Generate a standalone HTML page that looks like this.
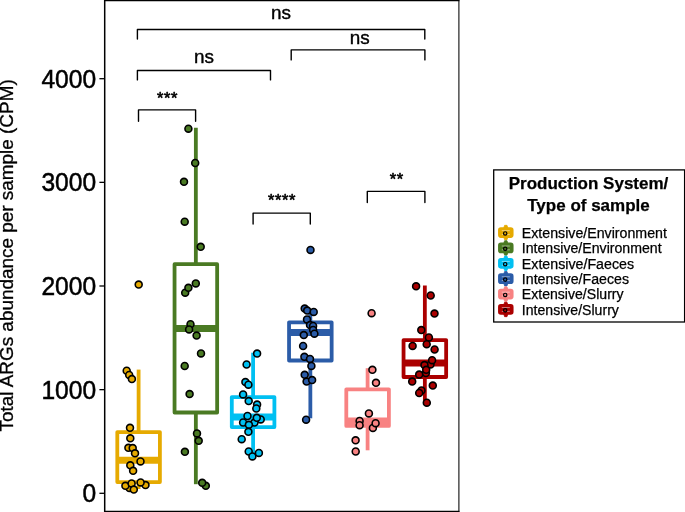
<!DOCTYPE html><html><head><meta charset="utf-8"><style>html,body{margin:0;padding:0;background:#fff;width:685px;height:512px;overflow:hidden}svg{display:block;filter:blur(0.35px)}text{font-family:"Liberation Sans",Arial,sans-serif}</style></head><body>
<svg width="685" height="512" viewBox="0 0 685 512">
<rect width="685" height="512" fill="#fff"/>
<g stroke="#E6AA00" fill="none" stroke-width="3.8">
<line x1="138.60" y1="369.6" x2="138.60" y2="432.10"/>
<line x1="138.60" y1="482.10" x2="138.60" y2="489.0"/>
<rect x="117.30" y="432.10" width="42.60" height="50.00" fill="#fff" stroke-linejoin="round"/>
<line x1="117.30" y1="460.3" x2="159.90" y2="460.3" stroke-width="7.0"/>
</g>
<g stroke="#4A7A23" fill="none" stroke-width="3.8">
<line x1="195.85" y1="127.7" x2="195.85" y2="264.20"/>
<line x1="195.85" y1="412.50" x2="195.85" y2="484.2"/>
<rect x="174.55" y="264.20" width="42.60" height="148.30" fill="#fff" stroke-linejoin="round"/>
<line x1="174.55" y1="328.5" x2="217.15" y2="328.5" stroke-width="7.0"/>
</g>
<g stroke="#00C0F2" fill="none" stroke-width="3.8">
<line x1="253.10" y1="352.7" x2="253.10" y2="397.10"/>
<line x1="253.10" y1="427.10" x2="253.10" y2="455.0"/>
<rect x="231.80" y="397.10" width="42.60" height="30.00" fill="#fff" stroke-linejoin="round"/>
<line x1="231.80" y1="417.1" x2="274.40" y2="417.1" stroke-width="7.0"/>
</g>
<g stroke="#2B5CA8" fill="none" stroke-width="3.8">
<line x1="310.35" y1="309.0" x2="310.35" y2="322.30"/>
<line x1="310.35" y1="360.50" x2="310.35" y2="418.3"/>
<rect x="289.05" y="322.30" width="42.60" height="38.20" fill="#fff" stroke-linejoin="round"/>
<line x1="289.05" y1="332.5" x2="331.65" y2="332.5" stroke-width="7.0"/>
</g>
<g stroke="#F88282" fill="none" stroke-width="3.8">
<line x1="367.60" y1="368.2" x2="367.60" y2="389.30"/>
<line x1="367.60" y1="425.90" x2="367.60" y2="450.3"/>
<rect x="346.30" y="389.30" width="42.60" height="36.60" fill="#fff" stroke-linejoin="round"/>
<line x1="346.30" y1="421.0" x2="388.90" y2="421.0" stroke-width="7.0"/>
</g>
<g stroke="#AB0000" fill="none" stroke-width="3.8">
<line x1="424.85" y1="285.5" x2="424.85" y2="340.10"/>
<line x1="424.85" y1="377.00" x2="424.85" y2="402.7"/>
<rect x="403.55" y="340.10" width="42.60" height="36.90" fill="#fff" stroke-linejoin="round"/>
<line x1="403.55" y1="363.0" x2="446.15" y2="363.0" stroke-width="7.0"/>
</g>
<g fill="#E6AA00" stroke="#000" stroke-width="1.6">
<circle cx="138.7" cy="284.6" r="3.45"/>
<circle cx="126.7" cy="370.7" r="3.45"/>
<circle cx="129.2" cy="375.0" r="3.45"/>
<circle cx="131.9" cy="379.1" r="3.45"/>
<circle cx="130" cy="427.8" r="3.45"/>
<circle cx="130.3" cy="438.3" r="3.45"/>
<circle cx="128.4" cy="447.8" r="3.45"/>
<circle cx="132.7" cy="448.1" r="3.45"/>
<circle cx="135" cy="453.3" r="3.45"/>
<circle cx="140.5" cy="461.4" r="3.45"/>
<circle cx="130.3" cy="465.3" r="3.45"/>
<circle cx="133.1" cy="470.8" r="3.45"/>
<circle cx="129.4" cy="487.9" r="3.45"/>
<circle cx="125.4" cy="485.8" r="3.45"/>
<circle cx="131.6" cy="483.4" r="3.45"/>
<circle cx="133.8" cy="489.6" r="3.45"/>
<circle cx="145.5" cy="485.1" r="3.45"/>
<circle cx="140.6" cy="482.4" r="3.45"/>
</g>
<g fill="#4A7A23" stroke="#000" stroke-width="1.6">
<circle cx="188.4" cy="128.7" r="3.45"/>
<circle cx="195.2" cy="163.0" r="3.45"/>
<circle cx="184.0" cy="181.8" r="3.45"/>
<circle cx="184.7" cy="221.7" r="3.45"/>
<circle cx="200.7" cy="246.8" r="3.45"/>
<circle cx="195.8" cy="283.4" r="3.45"/>
<circle cx="185.2" cy="292.7" r="3.45"/>
<circle cx="188.4" cy="287.8" r="3.45"/>
<circle cx="190.5" cy="324.2" r="3.45"/>
<circle cx="189.1" cy="329.4" r="3.45"/>
<circle cx="196.6" cy="335.6" r="3.45"/>
<circle cx="201" cy="353.4" r="3.45"/>
<circle cx="184.7" cy="366" r="3.45"/>
<circle cx="189.6" cy="394.1" r="3.45"/>
<circle cx="197" cy="433.4" r="3.45"/>
<circle cx="198.7" cy="440.8" r="3.45"/>
<circle cx="184.9" cy="451.8" r="3.45"/>
<circle cx="205.8" cy="485.8" r="3.45"/>
<circle cx="202.2" cy="482.8" r="3.45"/>
</g>
<g fill="#00C0F2" stroke="#000" stroke-width="1.6">
<circle cx="257.1" cy="353.6" r="3.45"/>
<circle cx="246.6" cy="364.5" r="3.45"/>
<circle cx="245.4" cy="382.1" r="3.45"/>
<circle cx="248.4" cy="384.7" r="3.45"/>
<circle cx="243.1" cy="394.4" r="3.45"/>
<circle cx="248.7" cy="401.1" r="3.45"/>
<circle cx="257.1" cy="404.6" r="3.45"/>
<circle cx="256.3" cy="408.5" r="3.45"/>
<circle cx="247.5" cy="416" r="3.45"/>
<circle cx="260.7" cy="419.4" r="3.45"/>
<circle cx="254.5" cy="422.6" r="3.45"/>
<circle cx="256.8" cy="417.8" r="3.45"/>
<circle cx="243.1" cy="422.5" r="3.45"/>
<circle cx="248.9" cy="424.8" r="3.45"/>
<circle cx="248.4" cy="431.8" r="3.45"/>
<circle cx="241.7" cy="439.2" r="3.45"/>
<circle cx="248.7" cy="451.5" r="3.45"/>
<circle cx="252.4" cy="456.4" r="3.45"/>
<circle cx="258.9" cy="452.9" r="3.45"/>
</g>
<g fill="#2B5CA8" stroke="#000" stroke-width="1.6">
<circle cx="310.5" cy="249.9" r="3.45"/>
<circle cx="304.7" cy="308.6" r="3.45"/>
<circle cx="307.2" cy="310.6" r="3.45"/>
<circle cx="313.7" cy="311.9" r="3.45"/>
<circle cx="307" cy="319.4" r="3.45"/>
<circle cx="310" cy="325.1" r="3.45"/>
<circle cx="313.1" cy="326" r="3.45"/>
<circle cx="313.1" cy="329.9" r="3.45"/>
<circle cx="314.4" cy="333.7" r="3.45"/>
<circle cx="303.8" cy="335.1" r="3.45"/>
<circle cx="303.1" cy="346" r="3.45"/>
<circle cx="304.4" cy="356.8" r="3.45"/>
<circle cx="310" cy="358.9" r="3.45"/>
<circle cx="311.4" cy="365.9" r="3.45"/>
<circle cx="304.7" cy="374.8" r="3.45"/>
<circle cx="306.6" cy="381.6" r="3.45"/>
<circle cx="312.1" cy="380.1" r="3.45"/>
<circle cx="306.1" cy="419.7" r="3.45"/>
</g>
<g fill="#F88282" stroke="#000" stroke-width="1.6">
<circle cx="371.6" cy="313.2" r="3.45"/>
<circle cx="372.4" cy="369.8" r="3.45"/>
<circle cx="376" cy="382.8" r="3.45"/>
<circle cx="368.9" cy="413.4" r="3.45"/>
<circle cx="359.6" cy="421.0" r="3.45"/>
<circle cx="359.6" cy="425.2" r="3.45"/>
<circle cx="372.9" cy="427.9" r="3.45"/>
<circle cx="375.6" cy="423.2" r="3.45"/>
<circle cx="355.6" cy="440.3" r="3.45"/>
<circle cx="355.7" cy="451.5" r="3.45"/>
</g>
<g fill="#AB0000" stroke="#000" stroke-width="1.6">
<circle cx="416.1" cy="286.3" r="3.45"/>
<circle cx="430.7" cy="295.5" r="3.45"/>
<circle cx="434.5" cy="313.6" r="3.45"/>
<circle cx="421.3" cy="330.1" r="3.45"/>
<circle cx="428.9" cy="337.5" r="3.45"/>
<circle cx="412.6" cy="345.9" r="3.45"/>
<circle cx="426.7" cy="344.2" r="3.45"/>
<circle cx="434.6" cy="349.5" r="3.45"/>
<circle cx="430.5" cy="364.4" r="3.45"/>
<circle cx="432.1" cy="360.2" r="3.45"/>
<circle cx="424.5" cy="365.1" r="3.45"/>
<circle cx="425.9" cy="373.0" r="3.45"/>
<circle cx="426.2" cy="369.8" r="3.45"/>
<circle cx="419.2" cy="374.6" r="3.45"/>
<circle cx="412.2" cy="381.6" r="3.45"/>
<circle cx="432.8" cy="385.6" r="3.45"/>
<circle cx="421.5" cy="390.4" r="3.45"/>
<circle cx="419.2" cy="393" r="3.45"/>
<circle cx="426.8" cy="402.7" r="3.45"/>
</g>
<line x1="104.7" y1="0" x2="104.7" y2="512" stroke="#000" stroke-width="1.5"/>
<line x1="104" y1="0.55" x2="459.4" y2="0.55" stroke="#000" stroke-width="1.2"/>
<line x1="458.9" y1="0" x2="458.9" y2="512" stroke="#000" stroke-width="1.05"/>
<line x1="104" y1="511.4" x2="459.4" y2="511.4" stroke="#000" stroke-width="1.3"/>
<line x1="99.4" y1="493.30" x2="104.5" y2="493.30" stroke="#000" stroke-width="1.3"/>
<text transform="translate(96.1 502.30) scale(0.975 1)" font-size="25.2" text-anchor="end" fill="#000" stroke="#000" stroke-width="0.5">0</text>
<line x1="99.4" y1="389.65" x2="104.5" y2="389.65" stroke="#000" stroke-width="1.3"/>
<text transform="translate(96.1 398.65) scale(0.975 1)" font-size="25.2" text-anchor="end" fill="#000" stroke="#000" stroke-width="0.5">1000</text>
<line x1="99.4" y1="286.00" x2="104.5" y2="286.00" stroke="#000" stroke-width="1.3"/>
<text transform="translate(96.1 295.00) scale(0.975 1)" font-size="25.2" text-anchor="end" fill="#000" stroke="#000" stroke-width="0.5">2000</text>
<line x1="99.4" y1="182.35" x2="104.5" y2="182.35" stroke="#000" stroke-width="1.3"/>
<text transform="translate(96.1 191.35) scale(0.975 1)" font-size="25.2" text-anchor="end" fill="#000" stroke="#000" stroke-width="0.5">3000</text>
<line x1="99.4" y1="78.70" x2="104.5" y2="78.70" stroke="#000" stroke-width="1.3"/>
<text transform="translate(96.1 87.70) scale(0.975 1)" font-size="25.2" text-anchor="end" fill="#000" stroke="#000" stroke-width="0.5">4000</text>
<text transform="translate(13,255.4) rotate(-90)" font-size="17.6" text-anchor="middle" textLength="352.2" lengthAdjust="spacingAndGlyphs" fill="#000" stroke="#000" stroke-width="0.3">Total ARGs abundance per sample (CPM)</text>
<path d="M137.4 39.0 V29.5 H424.8 V39.0" fill="none" stroke="#000" stroke-width="1.4" stroke-linecap="round" stroke-linejoin="round"/>
<path d="M137.4 79.9 V70.5 H270.5 V79.9" fill="none" stroke="#000" stroke-width="1.4" stroke-linecap="round" stroke-linejoin="round"/>
<path d="M138.5 121.2 V109.9 H195.6 V121.2" fill="none" stroke="#000" stroke-width="1.4" stroke-linecap="round" stroke-linejoin="round"/>
<path d="M291.2 59.9 V49.9 H424.9 V59.9" fill="none" stroke="#000" stroke-width="1.4" stroke-linecap="round" stroke-linejoin="round"/>
<path d="M253.1 224.1 V213.1 H310.3 V224.1" fill="none" stroke="#000" stroke-width="1.4" stroke-linecap="round" stroke-linejoin="round"/>
<path d="M367.3 202.6 V191.4 H424.9 V202.6" fill="none" stroke="#000" stroke-width="1.4" stroke-linecap="round" stroke-linejoin="round"/>
<text x="281.0" y="18.9" font-size="18.9" text-anchor="middle" stroke="#000" stroke-width="0.4">ns</text>
<text x="203.9" y="62.5" font-size="18.9" text-anchor="middle" stroke="#000" stroke-width="0.4">ns</text>
<text x="359.8" y="44.2" font-size="18.9" text-anchor="middle" stroke="#000" stroke-width="0.4">ns</text>
<text x="156.90 163.90 170.90" y="103.58" font-size="16.5" stroke="#000" stroke-width="0.6" stroke-linejoin="round">***</text>
<text x="267.90 274.90 281.90 288.90" y="205.88" font-size="16.5" stroke="#000" stroke-width="0.6" stroke-linejoin="round">****</text>
<text x="389.80 396.80" y="185.08" font-size="16.5" stroke="#000" stroke-width="0.6" stroke-linejoin="round">**</text>
<rect x="493.7" y="169.9" width="190.9" height="152.1" fill="#fff" stroke="#000" stroke-width="1.3"/>
<text x="588.5" y="189.3" font-size="17" font-weight="bold" text-anchor="middle" stroke="#000" stroke-width="0.25">Production System/</text>
<text x="588.5" y="210.5" font-size="17" font-weight="bold" text-anchor="middle" stroke="#000" stroke-width="0.25">Type of sample</text>
<g>
<path d="M504.60 225.35 L507.00 225.35 L508.00 228.55 L503.60 228.55Z" fill="#E6AA00" stroke="#E6AA00" stroke-width="0.8" stroke-linejoin="round"/>
<path d="M504.60 239.75 L507.00 239.75 L508.00 236.55 L503.60 236.55Z" fill="#E6AA00" stroke="#E6AA00" stroke-width="0.8" stroke-linejoin="round"/>
<rect x="499.05" y="228.20" width="13.5" height="8.7" rx="1.8" fill="#E6AA00" stroke="#E6AA00" stroke-width="2"/>
<line x1="501.80" y1="230.65" x2="509.80" y2="230.65" stroke="#fff" stroke-opacity="0.6" stroke-width="0.8"/>
<line x1="501.80" y1="234.45" x2="509.80" y2="234.45" stroke="#fff" stroke-opacity="0.6" stroke-width="0.8"/>
<circle cx="505.20" cy="233.45" r="1.7" fill="#E6AA00" stroke="#000" stroke-width="1.2"/>
</g>
<text x="521.8" y="237.70" font-size="14" textLength="145.13" lengthAdjust="spacingAndGlyphs" fill="#000" stroke="#000" stroke-width="0.25">Extensive/Environment</text>
<g>
<path d="M504.60 240.73 L507.00 240.73 L508.00 243.93 L503.60 243.93Z" fill="#4A7A23" stroke="#4A7A23" stroke-width="0.8" stroke-linejoin="round"/>
<path d="M504.60 255.13 L507.00 255.13 L508.00 251.93 L503.60 251.93Z" fill="#4A7A23" stroke="#4A7A23" stroke-width="0.8" stroke-linejoin="round"/>
<rect x="499.05" y="243.58" width="13.5" height="8.7" rx="1.8" fill="#4A7A23" stroke="#4A7A23" stroke-width="2"/>
<line x1="501.80" y1="246.03" x2="509.80" y2="246.03" stroke="#fff" stroke-opacity="0.6" stroke-width="0.8"/>
<line x1="501.80" y1="249.83" x2="509.80" y2="249.83" stroke="#fff" stroke-opacity="0.6" stroke-width="0.8"/>
<circle cx="505.20" cy="248.83" r="1.7" fill="#4A7A23" stroke="#000" stroke-width="1.2"/>
</g>
<text x="521.8" y="253.10" font-size="14" textLength="139.82" lengthAdjust="spacingAndGlyphs" fill="#000" stroke="#000" stroke-width="0.25">Intensive/Environment</text>
<g>
<path d="M504.60 256.11 L507.00 256.11 L508.00 259.31 L503.60 259.31Z" fill="#00C0F2" stroke="#00C0F2" stroke-width="0.8" stroke-linejoin="round"/>
<path d="M504.60 270.51 L507.00 270.51 L508.00 267.31 L503.60 267.31Z" fill="#00C0F2" stroke="#00C0F2" stroke-width="0.8" stroke-linejoin="round"/>
<rect x="499.05" y="258.96" width="13.5" height="8.7" rx="1.8" fill="#00C0F2" stroke="#00C0F2" stroke-width="2"/>
<line x1="501.80" y1="261.41" x2="509.80" y2="261.41" stroke="#fff" stroke-opacity="0.6" stroke-width="0.8"/>
<line x1="501.80" y1="265.21" x2="509.80" y2="265.21" stroke="#fff" stroke-opacity="0.6" stroke-width="0.8"/>
<circle cx="505.20" cy="264.21" r="1.7" fill="#00C0F2" stroke="#000" stroke-width="1.2"/>
</g>
<text x="521.8" y="268.50" font-size="14" textLength="112.24" lengthAdjust="spacingAndGlyphs" fill="#000" stroke="#000" stroke-width="0.25">Extensive/Faeces</text>
<g>
<path d="M504.60 271.49 L507.00 271.49 L508.00 274.69 L503.60 274.69Z" fill="#2B5CA8" stroke="#2B5CA8" stroke-width="0.8" stroke-linejoin="round"/>
<path d="M504.60 285.89 L507.00 285.89 L508.00 282.69 L503.60 282.69Z" fill="#2B5CA8" stroke="#2B5CA8" stroke-width="0.8" stroke-linejoin="round"/>
<rect x="499.05" y="274.34" width="13.5" height="8.7" rx="1.8" fill="#2B5CA8" stroke="#2B5CA8" stroke-width="2"/>
<line x1="501.80" y1="276.79" x2="509.80" y2="276.79" stroke="#fff" stroke-opacity="0.6" stroke-width="0.8"/>
<line x1="501.80" y1="280.59" x2="509.80" y2="280.59" stroke="#fff" stroke-opacity="0.6" stroke-width="0.8"/>
<circle cx="505.20" cy="279.59" r="1.7" fill="#2B5CA8" stroke="#000" stroke-width="1.2"/>
</g>
<text x="521.8" y="283.90" font-size="14" textLength="107.23" lengthAdjust="spacingAndGlyphs" fill="#000" stroke="#000" stroke-width="0.25">Intensive/Faeces</text>
<g>
<path d="M504.60 286.87 L507.00 286.87 L508.00 290.07 L503.60 290.07Z" fill="#F88282" stroke="#F88282" stroke-width="0.8" stroke-linejoin="round"/>
<path d="M504.60 301.27 L507.00 301.27 L508.00 298.07 L503.60 298.07Z" fill="#F88282" stroke="#F88282" stroke-width="0.8" stroke-linejoin="round"/>
<rect x="499.05" y="289.72" width="13.5" height="8.7" rx="1.8" fill="#F88282" stroke="#F88282" stroke-width="2"/>
<line x1="501.80" y1="292.17" x2="509.80" y2="292.17" stroke="#fff" stroke-opacity="0.6" stroke-width="0.8"/>
<line x1="501.80" y1="295.97" x2="509.80" y2="295.97" stroke="#fff" stroke-opacity="0.6" stroke-width="0.8"/>
<circle cx="505.20" cy="294.97" r="1.7" fill="#F88282" stroke="#000" stroke-width="1.2"/>
</g>
<text x="521.8" y="299.30" font-size="14" textLength="101.79" lengthAdjust="spacingAndGlyphs" fill="#000" stroke="#000" stroke-width="0.25">Extensive/Slurry</text>
<g>
<path d="M504.60 302.25 L507.00 302.25 L508.00 305.45 L503.60 305.45Z" fill="#AB0000" stroke="#AB0000" stroke-width="0.8" stroke-linejoin="round"/>
<path d="M504.60 316.65 L507.00 316.65 L508.00 313.45 L503.60 313.45Z" fill="#AB0000" stroke="#AB0000" stroke-width="0.8" stroke-linejoin="round"/>
<rect x="499.05" y="305.10" width="13.5" height="8.7" rx="1.8" fill="#AB0000" stroke="#AB0000" stroke-width="2"/>
<line x1="501.80" y1="307.55" x2="509.80" y2="307.55" stroke="#fff" stroke-opacity="0.6" stroke-width="0.8"/>
<line x1="501.80" y1="311.35" x2="509.80" y2="311.35" stroke="#fff" stroke-opacity="0.6" stroke-width="0.8"/>
<circle cx="505.20" cy="310.35" r="1.7" fill="#AB0000" stroke="#000" stroke-width="1.2"/>
</g>
<text x="521.8" y="314.70" font-size="14" textLength="97.09" lengthAdjust="spacingAndGlyphs" fill="#000" stroke="#000" stroke-width="0.25">Intensive/Slurry</text>
</svg></body></html>
